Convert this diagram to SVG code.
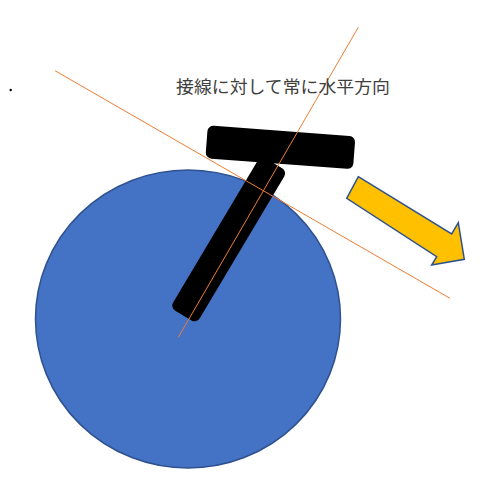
<svg xmlns="http://www.w3.org/2000/svg" width="488" height="480" viewBox="0 0 488 480">
<style>
.guide{stroke:#ED7D31;stroke-width:1;fill:none}
.blk{fill:#000}
.lbl{font-family:"Noto Sans CJK JP","Noto Sans",sans-serif;font-size:17px;fill:#404040}
</style>
<rect width="488" height="480" fill="#fff"/>
<g id="wheel">
<ellipse cx="188" cy="319" rx="152.5" ry="149" fill="#4472C4" stroke="#2F528F" stroke-width="1.5"/>
</g>
<g id="stem">
<rect class="blk" x="-15.5" y="-88.5" width="31" height="177" rx="6" transform="translate(228.7,239.5) rotate(30.8)"/>
</g>
<g id="bar">
<rect class="blk" x="-74" y="-16.5" width="148" height="33" rx="6" transform="translate(280.4,147.3) rotate(4.3)"/>
</g>
<g id="connectors">
<line class="guide" x1="178.3" y1="337.3" x2="358.3" y2="27.3"/>
<line class="guide" x1="55" y1="70.7" x2="450" y2="298.3"/>
</g>
<g id="arrow">
<polygon points="358.3,176.7 451.7,234 458.3,222.7 464.3,259.3 431.7,265 436.7,256.7 346.7,198.3" fill="#FFC000" stroke="#2F528F" stroke-width="1.5" stroke-linejoin="miter"/>
</g>
<g id="label">
<text class="lbl" x="176" y="93" textLength="214" lengthAdjust="spacingAndGlyphs">接線に対して常に水平方向</text>
</g>
<circle cx="10.7" cy="90" r="1.2" fill="#000"/>
</svg>
